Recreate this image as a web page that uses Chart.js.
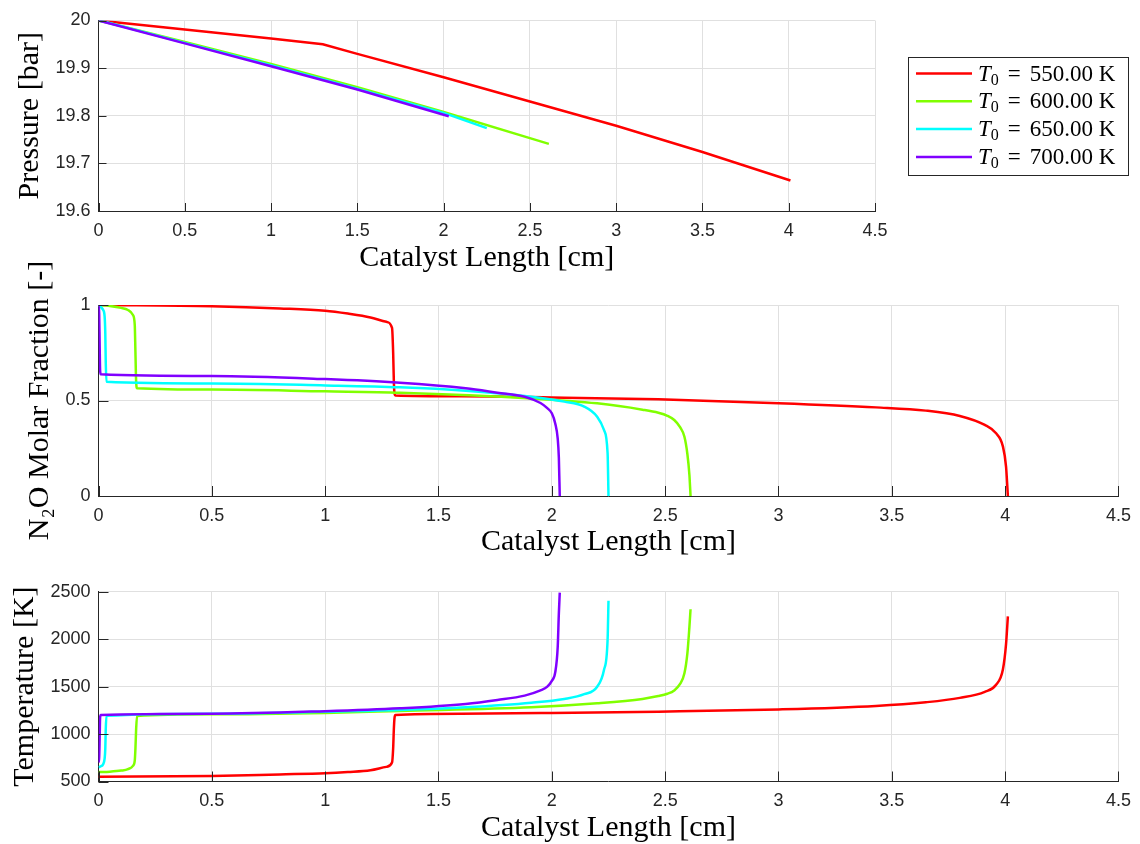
<!DOCTYPE html>
<html>
<head>
<meta charset="utf-8">
<script src="https://cdn.jsdelivr.net/npm/chart.js@4"></script>
<style>
  body { margin: 0; background: #fff; }
  .panel { position: absolute; left: 0; }
</style>
</head>
<body>
<canvas id="chartPressure" class="panel" width="1140" height="280" style="top:0px"></canvas>
<canvas id="chartN2O" class="panel" width="1140" height="330" style="top:240px"></canvas>
<canvas id="chartTemp" class="panel" width="1140" height="274" style="top:570px"></canvas>
<script>
/* ------------------------------------------
   reactor profiles — pressure, N2O, temperature
------------------------------------------- */

// inlet temperatures (legend) and line colours
const inletTemps = [550, 600, 650, 700];
const colors = ["#ff0000", "#80ff00", "#00ffff", "#8000ff"];

// pressure [bar] vs catalyst length [cm]
const pLen550 = [0, 0.5, 1.0, 1.3, 1.5, 2.0, 2.5, 3.0, 3.5, 4.01];
const pres550 = [20, 19.981, 19.962, 19.950, 19.930, 19.881, 19.830, 19.779, 19.724, 19.664];
const pLen600 = [0, 0.17, 0.5, 1.0, 1.5, 2.0, 2.5, 2.61];
const pres600 = [20, 19.985, 19.955, 19.909, 19.860, 19.808, 19.753, 19.741];
const pLen650 = [0, 0.03, 0.5, 1.0, 1.5, 2.0, 2.25];
const pres650 = [20, 19.998, 19.953, 19.906, 19.857, 19.806, 19.774];
const pLen700 = [0, 0.5, 1.0, 1.5, 2.03];
const pres700 = [20, 19.952, 19.904, 19.855, 19.799];

// N2O molar fraction [-] and temperature [K], sharing the length points
const len550 = [0, 0.5, 0.8, 1.0, 1.1, 1.2, 1.27, 1.295, 1.300, 1.303, 1.306, 1.31, 1.6, 2.0, 2.47, 3.0, 3.43, 3.65, 3.8, 3.91, 3.96, 3.99, 4.004, 4.012];
const n2o550 = [1.0, 0.993, 0.982, 0.970, 0.955, 0.935, 0.912, 0.88, 0.75, 0.60, 0.535, 0.526, 0.522, 0.516, 0.506, 0.486, 0.464, 0.447, 0.419, 0.372, 0.328, 0.26, 0.153, 0];
const temp550 = [550, 558, 575, 587, 600, 619, 654, 700, 850, 1050, 1170, 1200, 1215, 1222, 1236, 1259, 1296, 1335, 1381, 1445, 1520, 1680, 1950, 2240];

const len600 = [0, 0.05, 0.1, 0.13, 0.152, 0.16, 0.163, 0.166, 0.17, 0.5, 1.0, 1.33, 1.91, 2.2, 2.4, 2.47, 2.51, 2.54, 2.565, 2.585, 2.598, 2.607, 2.612];
const n2o600 = [1.0, 0.995, 0.985, 0.974, 0.948, 0.895, 0.75, 0.6, 0.564, 0.557, 0.548, 0.541, 0.511, 0.485, 0.452, 0.436, 0.42, 0.398, 0.362, 0.31, 0.22, 0.11, 0];
const temp600 = [600, 604, 615, 630, 665, 720, 850, 1050, 1190, 1208, 1222, 1243, 1282, 1324, 1370, 1400, 1425, 1460, 1525, 1640, 1850, 2130, 2315];

const len650 = [0, 0.01, 0.02, 0.027, 0.03, 0.032, 0.035, 0.5, 1.0, 1.33, 1.62, 1.91, 2.055, 2.143, 2.2, 2.23, 2.246, 2.25];
const n2o650 = [1.0, 0.99, 0.975, 0.94, 0.85, 0.7, 0.598, 0.589, 0.579, 0.569, 0.551, 0.52, 0.494, 0.468, 0.415, 0.346, 0.225, 0];
const temp650 = [650, 660, 680, 740, 850, 1050, 1192, 1215, 1235, 1253, 1282, 1330, 1370, 1420, 1499, 1675, 1991, 2405];

const len700 = [0, 0.003, 0.005, 0.007, 0.01, 0.5, 1.0, 1.33, 1.62, 1.76, 1.88, 1.95, 1.98, 2.0, 2.015, 2.026, 2.031, 2.035];
const n2o700 = [1.0, 0.95, 0.8, 0.66, 0.637, 0.628, 0.612, 0.593, 0.564, 0.541, 0.52, 0.487, 0.46, 0.433, 0.38, 0.3, 0.2, 0];
const temp700 = [700, 760, 950, 1170, 1200, 1215, 1241, 1271, 1317, 1359, 1405, 1460, 1499, 1560, 1650, 1920, 2272, 2490];

// tick labels
const lengthTicks = [0, 0.5, 1, 1.5, 2, 2.5, 3, 3.5, 4, 4.5];
const pressureTicks = [19.6, 19.7, 19.8, 19.9, 20];
const fractionTicks = [0, 0.5, 1];
const tempTicks = [500, 1000, 1500, 2000, 2500];

const SERIF = '"Liberation Serif", "Times New Roman", serif';
const SANS = '"Liberation Sans", Arial, sans-serif';
const INK = "#262626";
const GRID = "#e0e0e0";

Chart.defaults.color = INK;
Chart.defaults.font.family = SANS;

const pts = (xs, ys) => xs.map((x, i) => ({ x: x, y: ys[i] }));
const fmt = v => String(+Number(v).toFixed(2));

function makeSets(xsList, ysList, smooth) {
  return ysList.map((ys, i) => ({
    label: "T0 = " + inletTemps[i].toFixed(2) + " K",
    data: pts(xsList[i], ys),
    showLine: true,
    borderColor: colors[i],
    backgroundColor: colors[i],
    borderWidth: 2.5,
    pointRadius: 0,
    tension: 0,
    cubicInterpolationMode: smooth ? "monotone" : "default",
    order: ysList.length - i   // last series ends up on top, as in MATLAB
  }));
}

/* ticks drawn inside the axes, MATLAB style */
const innerTicks = {
  id: "innerTicks",
  afterDraw(chart, args, opts) {
    const { ctx, chartArea: a, scales } = chart;
    const len = opts.len || 8;
    ctx.save();
    ctx.strokeStyle = INK;
    ctx.lineWidth = 1;
    ctx.beginPath();
    scales.x.ticks.forEach(t => {
      const px = Math.round(scales.x.getPixelForValue(t.value)) + 0.5;
      ctx.moveTo(px, a.bottom);
      ctx.lineTo(px, a.bottom - len);
    });
    scales.y.ticks.forEach(t => {
      const py = Math.round(scales.y.getPixelForValue(t.value)) + 0.5;
      ctx.moveTo(a.left, py);
      ctx.lineTo(a.left + len, py);
    });
    ctx.stroke();
    ctx.restore();
  }
};

/* boxed legend with T_0 subscript, right of the pressure panel */
const legendBox = {
  id: "legendBox",
  afterDraw(chart) {
    const ctx = chart.ctx;
    const left = chart.chartArea.right + 33, top = 57, w = 220, h = 118;
    ctx.save();
    ctx.fillStyle = "#fff";
    ctx.fillRect(left, top, w, h);
    ctx.strokeStyle = INK;
    ctx.lineWidth = 1;
    ctx.strokeRect(left + 0.5, top + 0.5, w, h);
    inletTemps.forEach((t, i) => {
      const y = top + 16.5 + i * 27.8;
      ctx.strokeStyle = colors[i];
      ctx.lineWidth = 2.5;
      ctx.beginPath();
      ctx.moveTo(left + 8, y);
      ctx.lineTo(left + 64, y);
      ctx.stroke();

      let x = left + 70;
      const base = y + 7;
      ctx.fillStyle = "#000";
      ctx.textBaseline = "alphabetic";
      ctx.textAlign = "left";
      ctx.font = "italic 23px " + SERIF;
      ctx.fillText("T", x, base);
      x += ctx.measureText("T").width;
      ctx.font = "16px " + SERIF;
      ctx.fillText("0", x, base + 4);
      x += ctx.measureText("0").width + 9;
      ctx.font = "23px " + SERIF;
      ctx.fillText("=", x, base);
      x += ctx.measureText("=").width + 9;
      ctx.fillText(t.toFixed(2) + " K", x, base);
    });
    ctx.restore();
  }
};

function axisX(height, titlePad) {
  return {
    type: "linear",
    min: 0, max: 4.5,
    afterBuildTicks: s => { s.ticks = lengthTicks.map(v => ({ value: v })); },
    afterFit: s => { s.height = height; },
    ticks: { callback: fmt, font: { size: 18 }, color: INK, padding: 9, maxRotation: 0, autoSkip: false },
    grid: { color: GRID, drawTicks: false },
    border: { color: INK, width: 1 },
    title: {
      display: true, text: "Catalyst Length [cm]", color: "#000",
      font: { family: SERIF, size: 30, lineHeight: 1 },
      padding: { top: 0, bottom: titlePad }
    }
  };
}

function axisY(min, max, tickVals, text, titlePad) {
  return {
    type: "linear",
    min: min, max: max,
    afterBuildTicks: s => { s.ticks = tickVals.map(v => ({ value: v })); },
    afterFit: s => { s.width = 98.5; },
    ticks: { callback: fmt, font: { size: 18 }, color: INK, padding: 8 },
    grid: { color: GRID, drawTicks: false },
    border: { color: INK, width: 1 },
    title: {
      display: true, text: text, color: "#000",
      font: { family: SERIF, size: 30, lineHeight: 1 },
      padding: { top: titlePad, bottom: 0 }
    }
  };
}

function baseOptions(pad, xAxis, yAxis, tickLen) {
  return {
    responsive: false,
    animation: false,
    devicePixelRatio: 1,
    layout: { padding: pad },
    plugins: {
      legend: { display: false },
      tooltip: { enabled: false },
      innerTicks: { len: tickLen }
    },
    scales: { x: xAxis, y: yAxis }
  };
}

/* -------------------------
    Pressure
------------------------- */
new Chart(document.getElementById("chartPressure"), {
  type: "scatter",
  data: { datasets: makeSets([pLen550, pLen600, pLen650, pLen700], [pres550, pres600, pres650, pres700], false) },
  options: baseOptions({ top: 20.5, right: 265, left: 0, bottom: 0 },
    axisX(69, 7), axisY(19.6, 20, pressureTicks, "Pressure [bar]", 15), 8),
  plugins: [innerTicks, legendBox]
});

/* -------------------------
    N2O molar fraction
------------------------- */
new Chart(document.getElementById("chartN2O"), {
  type: "scatter",
  data: { datasets: makeSets([len550, len600, len650, len700], [n2o550, n2o600, n2o650, n2o700], true) },
  options: baseOptions({ top: 65, right: 17, left: 0, bottom: 0 },
    axisX(74, 13), axisY(0, 1, fractionTicks, "N\u2082O Molar Fraction [-]", 25), 10),
  plugins: [innerTicks]
});

/* -------------------------
    Temperature
------------------------- */
new Chart(document.getElementById("chartTemp"), {
  type: "scatter",
  data: { datasets: makeSets([len550, len600, len650, len700], [temp550, temp600, temp650, temp700], true) },
  options: baseOptions({ top: 21.7, right: 17, left: 0, bottom: 0 },
    axisX(62.5, 1), axisY(500, 2500, tempTicks, "Temperature [K]", 10), 10),
  plugins: [innerTicks]
});
</script>
</body>
</html>
